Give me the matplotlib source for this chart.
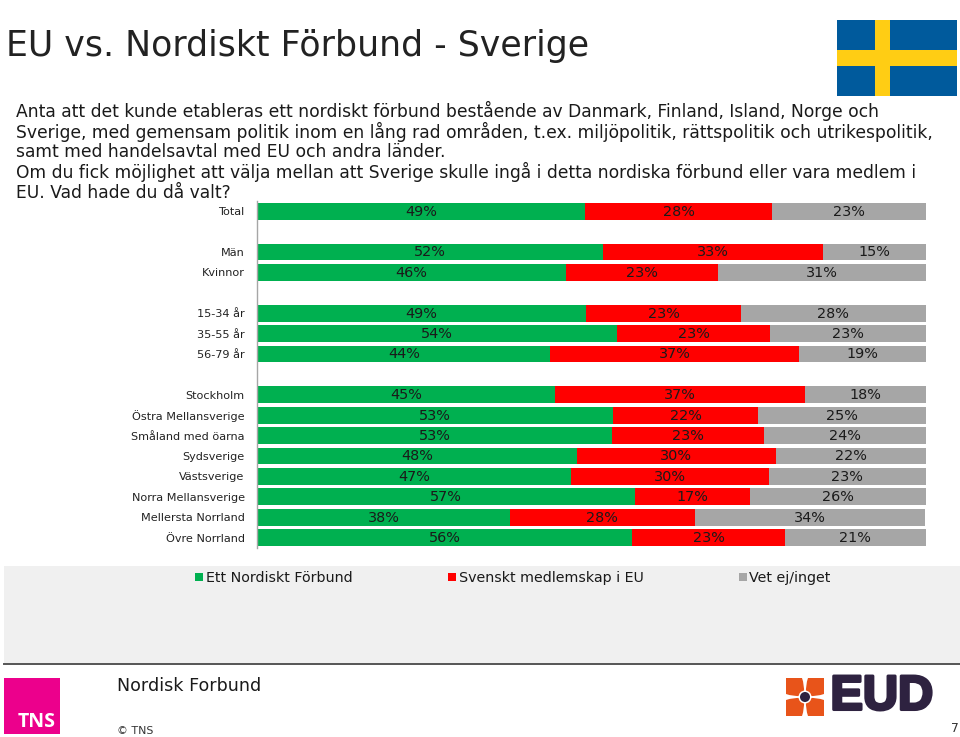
import matplotlib
matplotlib.use("Agg")
import matplotlib.pyplot as plt
import matplotlib.patheffects as pe
from matplotlib.patches import Rectangle, Circle, PathPatch
from matplotlib.path import Path

plt.rcParams['font.family'] = ['DejaVu Sans']

W, H = 960, 737
title = "EU vs. Nordiskt Förbund - Sverige"
question = [
    "Anta att det kunde etableras ett nordiskt förbund bestående av Danmark, Finland, Island, Norge och",
    "Sverige, med gemensam politik inom en lång rad områden, t.ex. miljöpolitik, rättspolitik och utrikespolitik,",
    "samt med handelsavtal med EU och andra länder.",
    "Om du fick möjlighet att välja mellan att Sverige skulle ingå i detta nordiska förbund eller vara medlem i",
    "EU. Vad hade du då valt?",
]
categories = ["Total", "Män", "Kvinnor", "15-34 år", "35-55 år", "56-79 år",
              "Stockholm", "Östra Mellansverige", "Småland med öarna", "Sydsverige",
              "Västsverige", "Norra Mellansverige", "Mellersta Norrland", "Övre Norrland"]
rows = [0, 2, 3, 5, 6, 7, 9, 10, 11, 12, 13, 14, 15, 16]
nordic = [49.1, 51.8, 46.2, 49.2, 53.8, 43.9, 44.6, 53.2, 53.1, 47.8, 46.9, 56.6, 37.8, 56.1]
eu = [28.0, 32.8, 22.8, 23.2, 23.0, 37.2, 37.3, 21.8, 22.8, 29.8, 29.7, 17.2, 27.7, 22.9]
unsure = [22.9, 15.4, 31.0, 27.6, 23.2, 18.9, 18.1, 25.0, 24.1, 22.4, 23.4, 26.2, 34.49, 21.0]
series = [("Ett Nordiskt Förbund", nordic, "#00B050"),
          ("Svenskt medlemskap i EU", eu, "#FF0000"),
          ("Vet ej/inget", unsure, "#A6A6A6")]

fig = plt.figure(figsize=(W / 100, H / 100), dpi=100, facecolor="white")

# page furniture, in pixel coordinates
bg = fig.add_axes([0, 0, 1, 1], zorder=0)
bg.set_xlim(0, W)
bg.set_ylim(H, 0)
bg.axis("off")

TXT = "#1a1a1a"
bg.text(6, 46, title, fontsize=25.0, color="#222222", va="center", ha="left")
for y, line in zip([111, 131.5, 152, 172, 193], question):
    bg.text(16, y, line, fontsize=12.32, color=TXT, va="center", ha="left")

# flag
bg.add_patch(Rectangle((837, 20), 120, 75.5, fc="#005A9C", ec="none"))
bg.add_patch(Rectangle((874.5, 20), 15.5, 75.5, fc="#FFCD14", ec="none"))
bg.add_patch(Rectangle((837, 50), 120, 15.5, fc="#FFCD14", ec="none"))

# legend band and rule
bg.add_patch(Rectangle((4, 566), 956, 98, fc="#F0F0F0", ec="none"))
bg.plot([4, 960], [664, 664], color="#555555", lw=1.4)

# footer
bg.add_patch(Rectangle((4, 678), 56, 56, fc="#EC008C", ec="none"))
bg.text(56, 722, "TNS", fontsize=14, fontweight="bold", color="white", ha="right", va="center",
        family="Open Sans")
bg.text(117, 686, "Nordisk Forbund", fontsize=12.6, color=TXT, va="center", ha="left")
bg.text(117, 730.5, "© TNS", fontsize=7.9, color="#333333", va="center", ha="left")
bg.text(959, 728, "7", fontsize=8.8, color="#333333", va="center", ha="right")

# EUD logo: four petals mirrored round the centre
cx, cy = 805, 697
petal = [(-19, -19), (-3, -19), (-0.5, -12), (-1, -4), (-4, -1), (-12, -0.5), (-19, -3), (-19, -19)]
codes = [Path.MOVETO, Path.LINETO, Path.CURVE3, Path.CURVE3, Path.LINETO, Path.CURVE3, Path.CURVE3,
         Path.CLOSEPOLY]
for sx, sy in [(1, 1), (-1, 1), (1, -1), (-1, -1)]:
    pts = [(cx + sx * px, cy + sy * py) for px, py in petal]
    bg.add_patch(PathPatch(Path(pts, codes), fc="#E8541A", ec="none"))
bg.add_patch(Circle((cx, cy), 6.5, fc="white", ec="none"))
bg.add_patch(Circle((cx, cy), 5, fc="#2E2240", ec="none"))
bg.text(830.5, 697, "EUD", fontsize=35, fontweight="bold", family="Liberation Sans", color="#2E2240",
        ha="left", va="center",
        path_effects=[pe.withStroke(linewidth=2.2, foreground="#2E2240")])

# chart
top, bottom, left, right = 201.0, 547.8, 257.0, 925.5
ax = fig.add_axes([left / W, 1 - bottom / H, (right - left) / W, (bottom - top) / H], zorder=1)
ax.patch.set_alpha(0)
ax.set_xlim(0, 100)
ax.set_ylim(16.5, -0.5)
handles = []
start = [0] * len(rows)
for name, vals, colour in series:
    bars = ax.barh(rows, vals, left=start, height=0.82, color=colour, label=name, linewidth=0)
    handles.append(bars)
    for r, s, v in zip(rows, start, vals):
        ax.text(s + v / 2, r + 0.02, f"{v:.0f}%", fontsize=10.4, color="#1a1a1a", ha="center", va="center")
    start = [s + v for s, v in zip(start, vals)]

ax.set_yticks(rows)
ax.set_yticklabels(categories, fontsize=8.1, color="#222222")
ax.tick_params(axis="y", length=0, pad=8.8)
ax.set_xticks([])
for side in ["top", "right", "bottom"]:
    ax.spines[side].set_visible(False)
ax.spines["left"].set_color("#A6A6A6")
ax.spines["left"].set_linewidth(1)

leg = fig.legend(handles=handles, loc="center left", bbox_to_anchor=(195 / W, 1 - 578 / H), ncol=3,
                 frameon=False, fontsize=10.3, handlelength=0.56, handleheight=0.56, handletextpad=0.2,
                 columnspacing=6.65, borderpad=0, borderaxespad=0, labelcolor="#1a1a1a")

fig.savefig("out.png", dpi=100)
